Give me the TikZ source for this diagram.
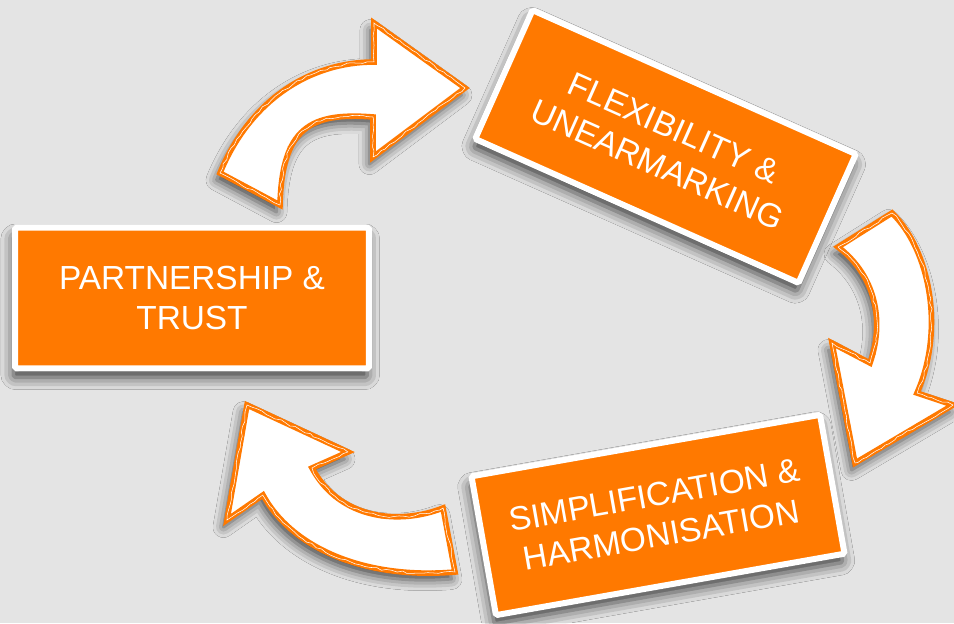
\documentclass[tikz,border=0pt]{standalone}
\usepackage{fontspec}
\setmainfont{Liberation Sans}
\usetikzlibrary{shadows.blur,decorations.pathmorphing}
\definecolor{bggray}{RGB}{228,228,228}
\definecolor{boxorange}{RGB}{255,121,0}
\begin{document}
\begin{tikzpicture}[x=0.02cm, y=-0.02cm,
    every node/.style={font=\fontsize{19}{23}\selectfont, text=white, align=center},
    stepbox/.style={fill=boxorange, draw=white, line width=0.12cm, rounded corners=1pt,
        minimum width=7.08cm, minimum height=2.82cm,
        blur shadow={shadow xshift=-1pt, shadow yshift=-5pt, shadow blur radius=7pt, shadow opacity=75}},
    cyclearrow/.style={fill=white, draw=boxorange, line width=3.2pt, line join=miter,
        blur shadow={shadow xshift=-2pt, shadow yshift=-4pt, shadow blur radius=6pt, shadow opacity=70},
        postaction={draw=boxorange, line width=1pt, decorate,
            decoration={random steps, segment length=2pt, amplitude=1pt}},
        postaction={draw=white, line width=0.3pt, decorate,
            decoration={random steps, segment length=3pt, amplitude=0.6pt}}}]
    \useasboundingbox (0,0) rectangle (954,623);
    \fill[bggray] (0,0) rectangle (954,623);
    % the three steps of the cycle
    \node[stepbox] (trust) at (192,298) {PARTNERSHIP \&\\TRUST};
    \node[stepbox, rotate=-24] (flex) at (665.5,146.5) {FLEXIBILITY \&\\UNEARMARKING};
    \node[stepbox, rotate=10] (simpl) at (658,515) {SIMPLIFICATION \&\\HARMONISATION};
    % curved arrows between them
    \draw[cyclearrow] (220,173) .. controls (250,100) and (310,62) .. (374,62) -- (374,23)
        -- (465,88) -- (373,157) -- (373,117) .. controls (310,112) and (282,128) .. (280,205) -- cycle;
    \draw[cyclearrow] (838,247) -- (892,213) .. controls (930,250) and (945,330) .. (917,393)
        -- (953,405) -- (855,463) -- (832,343) -- (870,363) .. controls (885,320) and (875,275) .. (838,247) -- cycle;
    \draw[cyclearrow] (247,405) -- (348,452) -- (312,468) .. controls (340,520) and (400,525) .. (443,508)
        -- (455,572) .. controls (360,580) and (290,545) .. (263,495) -- (227,520) -- cycle;
\end{tikzpicture}
\end{document}
